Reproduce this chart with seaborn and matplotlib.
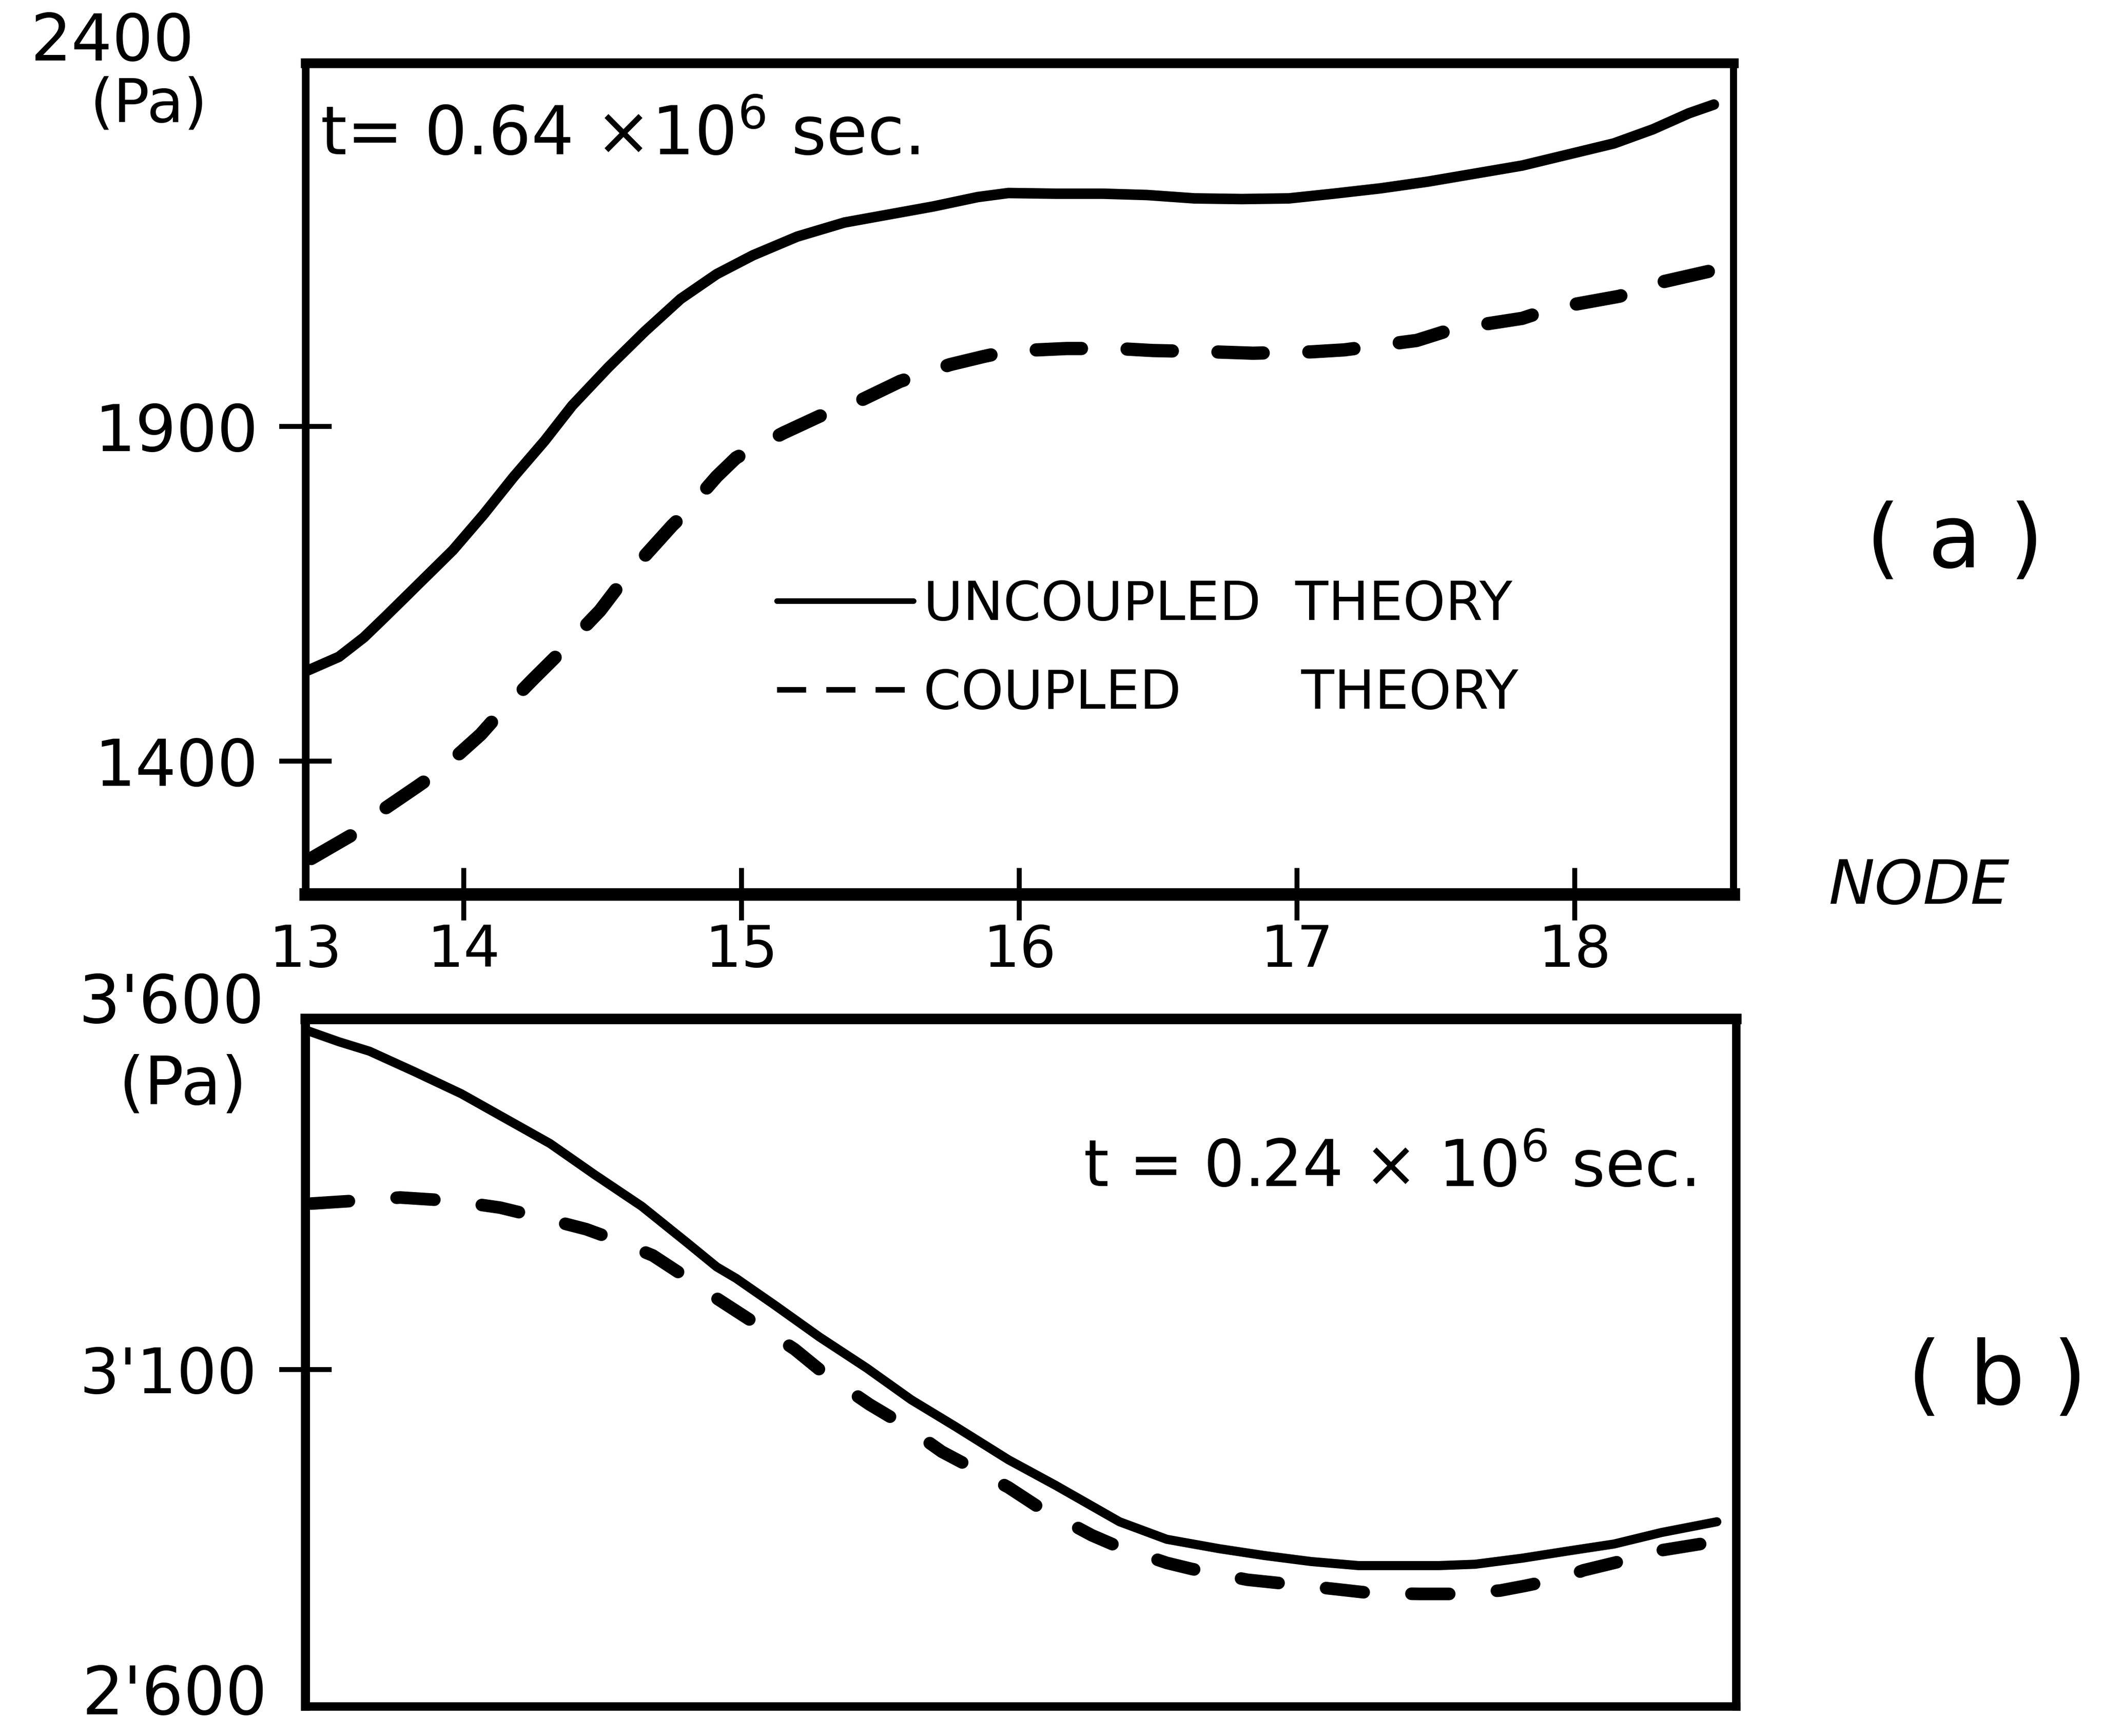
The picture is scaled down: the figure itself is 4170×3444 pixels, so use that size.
import numpy as np
import pandas as pd
import matplotlib
matplotlib.use("Agg")
import matplotlib.pyplot as plt
import seaborn as sns
from matplotlib.lines import Line2D

# ---------------- data ----------------
# panel (a): t = 0.64e6 s
a_unc_node = [13.44, 13.55, 13.64, 13.72, 13.84, 13.96, 14.07, 14.18, 14.29, 14.39,
              14.52, 14.65, 14.78, 14.91, 15.04, 15.20, 15.37, 15.53, 15.69, 15.85,
              15.96, 16.13, 16.30, 16.46, 16.63, 16.80, 16.97, 17.13, 17.30, 17.47,
              17.64, 17.81, 17.98, 18.14, 18.28, 18.41, 18.50]
a_unc_pa = [1536, 1556, 1585, 1617, 1666, 1715, 1768, 1825, 1878, 1931,
            1988, 2041, 2090, 2127, 2155, 2183, 2204, 2216, 2228, 2242,
            2248, 2247, 2247, 2245, 2240, 2239, 2240, 2247, 2255, 2265,
            2277, 2289, 2306, 2322, 2343, 2367, 2380]

a_cou_node = [13.45, 13.60, 13.66, 13.83, 13.92, 14.06, 14.12, 14.25, 14.34, 14.49,
              14.58, 14.75, 14.79, 14.91, 14.98, 15.15, 15.28, 15.43, 15.57, 15.75,
              15.87, 15.96, 16.17, 16.35, 16.48, 16.70, 16.84, 17.05, 17.17, 17.43,
              17.56, 17.81, 17.92, 18.16, 18.30, 18.48]
a_cou_pa = [1255, 1291, 1314, 1362, 1388, 1440, 1468, 1523, 1560, 1625,
            1674, 1752, 1768, 1825, 1853, 1890, 1915, 1939, 1967, 1992,
            2004, 2012, 2016, 2016, 2013, 2011, 2009, 2011, 2014, 2028,
            2045, 2061, 2076, 2094, 2114, 2131]

# panel (b): t = 0.24e6 s
b_unc_node = [13.44, 13.55, 13.66, 13.82, 13.99, 14.15, 14.31, 14.47, 14.64, 14.80,
              14.91, 14.98, 15.12, 15.28, 15.45, 15.61, 15.77, 15.96, 16.13, 16.36,
              16.53, 16.72, 16.88, 17.05, 17.22, 17.51, 17.64, 17.81, 17.98, 18.14,
              18.31, 18.51]
b_unc_pa = [3602, 3586, 3572, 3542, 3509, 3472, 3435, 3389, 3342, 3289,
            3252, 3235, 3195, 3148, 3102, 3055, 3015, 2966, 2928, 2874,
            2848, 2834, 2824, 2815, 2809, 2809, 2811, 2820, 2831, 2841,
            2858, 2874]

b_cou_node = [13.45, 13.60, 13.77, 13.96, 14.13, 14.28, 14.44, 14.52, 14.68, 14.78,
              14.90, 15.05, 15.19, 15.30, 15.46, 15.59, 15.72, 15.83, 15.96, 16.06,
              16.26, 16.35, 16.53, 16.62, 16.82, 16.96, 17.14, 17.27, 17.44, 17.57,
              17.73, 17.82, 17.96, 18.03, 18.19, 18.27, 18.45]
b_cou_pa = [3346, 3350, 3355, 3350, 3340, 3325, 3308, 3296, 3269, 3242,
            3208, 3168, 3130, 3093, 3048, 3016, 2978, 2954, 2925, 2898,
            2854, 2838, 2813, 2804, 2788, 2782, 2774, 2768, 2767, 2767,
            2772, 2779, 2791, 2802, 2818, 2829, 2841]

node_ticks = [14, 15, 16, 17, 18]
node_tick_labels = ["14", "15", "16", "17", "18"]
first_node_label = "13"
a_yticks = [1400, 1900]
a_ytick_labels = ["1400", "1900"]
b_yticks = [3100]
b_ytick_labels = ["3'100"]
series_names = ["UNCOUPLED THEORY", "COUPLED THEORY"]
legend_texts = ["UNCOUPLED  THEORY", "COUPLED       THEORY"]


def frame(nodes_u, pa_u, nodes_c, pa_c):
    return pd.DataFrame({
        "node": list(nodes_u) + list(nodes_c),
        "pressure": list(pa_u) + list(pa_c),
        "theory": [series_names[0]] * len(nodes_u) + [series_names[1]] * len(nodes_c),
    })


df_a = frame(a_unc_node, a_unc_pa, a_cou_node, a_cou_pa)
df_b = frame(b_unc_node, b_unc_pa, b_cou_node, b_cou_pa)

# ---------------- style ----------------
sns.set_theme(style="white")
plt.rcParams["font.family"] = ["DejaVu Sans"]
for k in ["text.color", "axes.labelcolor", "xtick.color", "ytick.color", "axes.edgecolor"]:
    plt.rcParams[k] = "black"
plt.rcParams["mathtext.default"] = "regular"

W, H = 4170, 3444
DPI = 100
fig = plt.figure(figsize=(W / DPI, H / DPI), dpi=DPI)
fig.patch.set_facecolor("white")

ax_a = fig.add_axes([0.1454, 0.485, 0.8246 - 0.1454, 0.9637 - 0.485])
ax_b = fig.add_axes([0.1454, 0.017, 0.826 - 0.1454, 0.4131 - 0.017])


def fit_dashes(ax, line, dash, gap_guess):
    """Stretch the gap slightly so the dashed curve starts and ends on a dash."""
    xy = np.column_stack(line.get_data())
    disp = ax.transData.transform(xy)
    length_px = np.hypot(*np.diff(disp, axis=0).T).sum()
    L = length_px * 72.0 / DPI / line.get_linewidth()
    n = max(1, int(round((L - dash) / (dash + gap_guess))))
    gap = (L - dash) / n - dash
    line.set_linestyle((0, (dash, gap)))


panels = [
    (ax_a, df_a, (3.4, 3.3), 15, 19, (13.43, 18.57), (1202, 2442)),
    (ax_b, df_b, (3.0, 3.6), 13, 18, (13.43, 18.58), (2600, 3620)),
]
for ax, df, (dash, gap), lw_u, lw_c, xl, yl in panels:
    ax.set_xlim(*xl)
    ax.set_ylim(*yl)
    sns.lineplot(data=df[df["theory"] == series_names[0]], x="node", y="pressure",
                 ax=ax, color="black", lw=lw_u, sort=False, legend=False)
    sns.lineplot(data=df[df["theory"] == series_names[1]], x="node", y="pressure",
                 ax=ax, color="black", lw=lw_c, sort=False, legend=False,
                 linestyle=(0, (dash, gap)))
    ax.set_xlim(*xl)
    ax.set_ylim(*yl)
    for ln in ax.lines:
        ln.set_dash_capstyle("round")
        ln.set_solid_capstyle("round")
        ln.set_solid_joinstyle("round")
        ln.set_dash_joinstyle("round")
    fit_dashes(ax, ax.lines[1], dash, gap)
    ax.set_xlabel("")
    ax.set_ylabel("")
    ax.set_facecolor("white")
    for s in ax.spines.values():
        s.set_visible(True)
        s.set_color("black")

ax_a.spines["left"].set_linewidth(11)
ax_a.spines["top"].set_linewidth(14)
ax_a.spines["right"].set_linewidth(10)
ax_a.spines["bottom"].set_linewidth(18)
ax_b.spines["left"].set_linewidth(13)
ax_b.spines["top"].set_linewidth(15)
ax_b.spines["right"].set_linewidth(12)
ax_b.spines["bottom"].set_linewidth(12)

# panel (a) axes
ax_a.set_yticks(a_yticks)
ax_a.set_yticklabels(a_ytick_labels)
ax_a.set_xticks([13.43] + node_ticks)
ax_a.set_xticklabels([first_node_label] + node_tick_labels)
ax_a.tick_params(axis="y", direction="inout", length=75, width=7, pad=30,
                 labelsize=92, left=True)
ax_a.tick_params(axis="x", direction="inout", length=75, width=7, pad=4,
                 labelsize=82, bottom=True)
ax_a.xaxis.get_major_ticks()[0].tick1line.set_visible(False)

# panel (b) axes
ax_b.set_yticks(b_yticks)
ax_b.set_yticklabels(b_ytick_labels)
ax_b.set_xticks([])
ax_b.tick_params(axis="y", direction="inout", length=75, width=7, pad=32,
                 labelsize=90, left=True)

# legend
handles = [Line2D([], [], color="black", lw=8),
           Line2D([], [], color="black", lw=8, linestyle=(0, (5.2, 3.6)))]
ax_a.legend(handles, legend_texts, loc="upper left",
            bbox_to_anchor=(0.330, 0.379), frameon=False,
            prop={"size": 77},
            handlelength=2.53, handletextpad=0.19, labelspacing=0.68,
            borderpad=0, borderaxespad=0)

# annotations
ax_a.text(0.010, 0.912, r"t= 0.64 $\times$10$^{6}$ sec.", transform=ax_a.transAxes,
          fontsize=96, ha="left", va="center")
ax_b.text(0.5436, 0.782, r"t = 0.24 $\times$ 10$^{6}$ sec.", transform=ax_b.transAxes,
          fontsize=92, ha="left", va="center")

fig.text(0.0534, 0.9755, "2400", fontsize=92, ha="center", va="center")
fig.text(0.0708, 0.9395, "(Pa)", fontsize=86, ha="center", va="center")
fig.text(0.0816, 0.4216, "3'600", fontsize=94, ha="center", va="center")
fig.text(0.0870, 0.3745, "(Pa)", fontsize=94, ha="center", va="center")
fig.text(0.0830, 0.0232, "2'600", fontsize=94, ha="center", va="center")

fig.text(0.913, 0.489, "NODE", fontsize=88, ha="center", va="center", style="italic")
fig.text(0.930, 0.687, "( a )", fontsize=125, ha="center", va="center")
fig.text(0.950, 0.205, "( b )", fontsize=125, ha="center", va="center")

fig.savefig("out.png", dpi=DPI, facecolor="white")
